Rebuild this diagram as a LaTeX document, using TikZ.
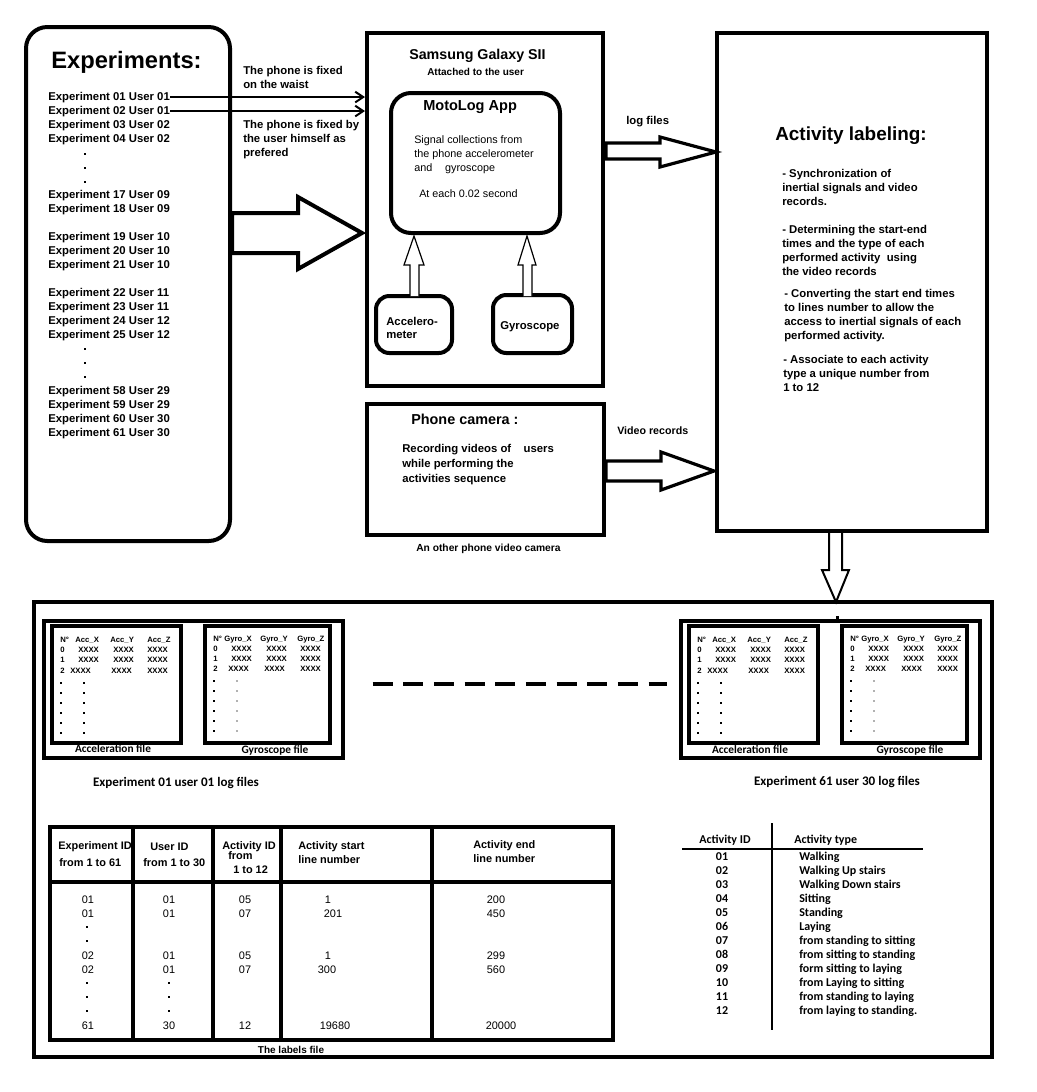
\documentclass[tikz,border=0pt]{standalone}
\usepackage{fontspec}
\setmainfont{Liberation Sans}
\newfontfamily\calib{Carlito}
\usetikzlibrary{arrows.meta,fit,calc}
\newcommand\logfiles[2]{%
\begin{scope}[shift={(#2,0)}]
  \node[bx,line width=2.4pt,fit={(44,621) (343,758)}] (grp#1) {};
  \node[bx,line width=2.4pt,fit={(52,626) (181,743)}] (acc#1) {};
  \node[bx,line width=2.4pt,fit={(205,626) (330,743)}] (gyr#1) {};
  \node[tiny] at (60,642) {N°};
  \node[tiny] at (75,642) {Acc\_X};
  \node[tiny] at (110,642) {Acc\_Y};
  \node[tiny] at (147,642) {Acc\_Z};
  \node[tiny] at (60,652) {0};  \node[tiny] at (78,652) {XXXX}; \node[tiny] at (113,652) {XXXX}; \node[tiny] at (147,652) {XXXX};
  \node[tiny] at (60,662) {1};  \node[tiny] at (78,662) {XXXX}; \node[tiny] at (113,662) {XXXX}; \node[tiny] at (147,662) {XXXX};
  \node[tiny] at (60,673) {2};  \node[tiny] at (70,673) {XXXX}; \node[tiny] at (111,673) {XXXX}; \node[tiny] at (147,673) {XXXX};
  \foreach \yy in {682,692,702,712,722,732}{
    \fill (60,\yy) rectangle (62,\yy+2);
    \fill (83,\yy) rectangle (85,\yy+2);}
  \node[tiny] at (213,641) {N°};
  \node[tiny] at (224,641) {Gyro\_X};
  \node[tiny] at (260,641) {Gyro\_Y};
  \node[tiny] at (297,641) {Gyro\_Z};
  \node[tiny] at (213,651) {0};  \node[tiny] at (231,651) {XXXX}; \node[tiny] at (266,651) {XXXX}; \node[tiny] at (300,651) {XXXX};
  \node[tiny] at (213,661) {1};  \node[tiny] at (231,661) {XXXX}; \node[tiny] at (266,661) {XXXX}; \node[tiny] at (300,661) {XXXX};
  \node[tiny] at (213,671) {2};  \node[tiny] at (228,671) {XXXX}; \node[tiny] at (264,671) {XXXX}; \node[tiny] at (300,671) {XXXX};
  \foreach \yy in {680,690,700,710,720,730}{
    \fill (213,\yy) rectangle (215,\yy+2);
    \fill[gray!60] (236,\yy) rectangle (238,\yy+2);}
\end{scope}}
\begin{document}
\begin{tikzpicture}[x=0.75pt,y=-0.75pt,
  bx/.style={draw,line width=3pt,inner sep=0pt},
  rbx/.style={bx,rounded corners=14pt},
  tb/.style={font=\bfseries\fontsize{8.5}{10}\selectfont,anchor=base west,inner sep=0pt},
  tr/.style={font=\fontsize{8.1}{10}\selectfont,anchor=base west,inner sep=0pt},
  tiny/.style={font=\bfseries\fontsize{5.8}{6}\selectfont,anchor=base west,inner sep=0pt},
  cal/.style={font=\calib\bfseries\fontsize{9}{10}\selectfont,anchor=base west,inner sep=0pt},
  thd/.style={font=\bfseries\fontsize{8.2}{10}\selectfont,anchor=base west,inner sep=0pt},
  tval/.style={font=\fontsize{8.2}{10}\selectfont,anchor=base,inner sep=0pt},
  barb/.style={line width=1.5pt,-{Straight Barb[length=6pt,width=8pt]}},
  blockarrow/.style={draw,fill=white,line join=miter}
]
\useasboundingbox (0,0) rectangle (1036,1092);

% ---------- Experiments box ----------
\node[rbx,rounded corners=16pt,fit={(26,27) (230,541)}] (exp) {};
\node[font=\bfseries\fontsize{17.8}{20}\selectfont,anchor=base west,inner sep=0pt] (exptitle) at (51,68) {Experiments:};
\foreach \n/\yy/\t in {e01/96/{Experiment 01 User 01},e02/110/{Experiment 02 User 01},e03/124/{Experiment 03 User 02},e04/138/{Experiment 04 User 02},
  e17/194/{Experiment 17 User 09},e18/208/{Experiment 18 User 09},
  e19/236/{Experiment 19 User 10},e20/250/{Experiment 20 User 10},e21/264/{Experiment 21 User 10},
  e22/292/{Experiment 22 User 11},e23/306/{Experiment 23 User 11},e24/320/{Experiment 24 User 12},e25/334/{Experiment 25 User 12},
  e58/390/{Experiment 58 User 29},e59/404/{Experiment 59 User 29},e60/418/{Experiment 60 User 30},e61/432/{Experiment 61 User 30}}
  \node[tb] (\n) at (48,\yy+4) {\t};
\foreach \yy in {153,167,181,348,362,376}
  \fill (84,\yy) rectangle (86,\yy+2);

% ---------- Samsung box ----------
\node[bx,fit={(367,33) (603,386)}] (sam) {};
\node[font=\bfseries\fontsize{10.7}{12}\selectfont,anchor=base west,inner sep=0pt] (samt) at (409,59) {Samsung Galaxy SII};
\node[font=\bfseries\fontsize{7.5}{9}\selectfont,anchor=base west,inner sep=0pt] (samst) at (427,75) {Attached to the user};
\node[rbx,rounded corners=15pt,fit={(391,93) (560,233)}] (moto) {};
\node[font=\bfseries\fontsize{10.9}{12}\selectfont,anchor=base west,inner sep=0pt] (motot) at (423,110) {MotoLog App};
\node[tr] (m1) at (414,143) {Signal collections from};
\node[tr] (m2) at (414,157) {the phone accelerometer};
\node[tr] (m3) at (414,171) {and\hspace{1.2em}gyroscope};
\node[tr] (m4) at (419,197) {At each 0.02 second};
\node[rbx,rounded corners=10pt,fit={(376,296) (452,353)}] (accb) {};
\node[tb] (acct1) at (386,325) {Accelero-};
\node[tb] (acct2) at (386,338) {meter};
\node[rbx,rounded corners=10pt,fit={(493,295) (572,353)}] (gyrb) {};
\node[tb] (gyrt) at (500,329) {Gyroscope};

% small up arrows
\draw[blockarrow,line width=0.9pt] (410,296)--(410,265)--(404,265)--(414,236)--(424,265)--(419,265)--(419,296);
\draw[blockarrow,line width=0.9pt] (523,296)--(523,265)--(518,265)--(527,236)--(536,265)--(532,265)--(532,296);

% ---------- Phone camera box ----------
\node[bx,line width=3.6pt,fit={(367,404) (604,535)}] (cam) {};
\node[font=\bfseries\fontsize{10.8}{12}\selectfont,anchor=base west,inner sep=0pt] (camt) at (411,424) {Phone camera :};
\node[tb] (c1) at (402,452) {Recording videos of\hspace{1.1em}users};
\node[tb] (c2) at (402,467) {while performing the};
\node[tb] (c3) at (402,482) {activities sequence};
\node[font=\bfseries\fontsize{7.7}{9}\selectfont,anchor=base west,inner sep=0pt] (camcap) at (416,551) {An other phone video camera};

% ---------- Activity labeling box ----------
\node[bx,line width=3.4pt,fit={(717,33) (987,531)}] (act) {};
\node[font=\bfseries\fontsize{14.2}{16}\selectfont,anchor=base west,inner sep=0pt] (actt) at (775,140) {Activity labeling:};
\foreach \n/\xx/\yy/\t in {a1/782/173/{- Synchronization of},a2/782/187/{inertial signals and video},a3/782/201/{records.},
  a4/782/229/{- Determining the start-end},a5/782/243/{times and the type of each},a6/782/257/{performed activity\ \ using},a7/782/271/{the video records},
  a8/784/293/{- Converting the start end times},a9/784/307/{to lines number to allow the},a10/784/321/{access to inertial signals of each},a11/784/335/{performed activity.},
  a12/783/359/{- Associate to each activity},a13/783/373/{type a unique number from},a14/783/387/{1 to 12}}
  \node[tb] (\n) at (\xx,\yy+4) {\t};

% ---------- connectors ----------
\draw[barb] (e01.east) -- (e01.east -| sam.west);
\draw[barb] (e02.east) -- (e02.east -| sam.west);
\node[tb] (w1) at (243,74) {The phone is fixed};
\node[tb] (w2) at (243,88) {on the waist};
\node[tb] (w3) at (243,128) {The phone is fixed by};
\node[tb] (w4) at (243,142) {the user himself as};
\node[tb] (w5) at (243,156) {prefered};

\draw[blockarrow,line width=3pt] (232,213)--(298,213)--(298,197)--(362,233)--(298,269)--(298,253)--(232,253)--cycle;
\draw[blockarrow,line width=2.4pt] (606,143)--(660,143)--(660,137)--(716,152)--(660,167)--(660,159)--(606,159)--cycle;
\node[tb] (logl) at (626,124) {log files};
\draw[blockarrow,line width=2.4pt] (606,461)--(661,461)--(661,452)--(714,471)--(661,490)--(661,481)--(606,481)--cycle;
\node[font=\bfseries\fontsize{8}{10}\selectfont,anchor=base west,inner sep=0pt] (vidl) at (617,434) {Video records};
\draw[blockarrow,line width=1.5pt] (829,533)--(829,570)--(822,570)--(836,602)--(849,570)--(842,570)--(842,533);

% ---------- bottom box ----------
\node[bx,line width=2.6pt,fit={(34,602) (992,1057)}] (bot) {};
\fill (836,616) rectangle (839,619);
\logfiles{L}{0}
\logfiles{R}{637}
\node[cal,font=\calib\bfseries\fontsize{8.5}{10}\selectfont,anchor=base] (accfL) at (113,752) {Acceleration file};
\node[cal,font=\calib\bfseries\fontsize{8.5}{10}\selectfont,anchor=base] (gyrfL) at (275,753) {Gyroscope file};
\node[cal,font=\calib\bfseries\fontsize{8.5}{10}\selectfont,anchor=base] (accfR) at (750,753) {Acceleration file};
\node[cal,font=\calib\bfseries\fontsize{8.5}{10}\selectfont,anchor=base] (gyrfR) at (910,753) {Gyroscope file};
\node[font=\calib\bfseries\fontsize{9.8}{11}\selectfont,anchor=base,inner sep=0pt] (logL) at (176,786) {Experiment 01 user 01 log files};
\node[font=\calib\bfseries\fontsize{9.8}{11}\selectfont,anchor=base,inner sep=0pt] (logR) at (837,785) {Experiment 61 user 30 log files};
\draw[line width=3pt,dash pattern=on 15pt off 8pt] (grpL.east |- 0,684) ++(28,0) coordinate (dashA) -- (667,684) coordinate (dashB);

% ---------- labels table ----------
\node[bx,fit={(50,827) (613,1040)}] (tab) {};
\draw[line width=3pt] (tab.west |- 0,882) -- (tab.east |- 0,882);
\foreach \xx in {133,213,281,432}
  \draw[line width=3pt] (\xx,827) -- (\xx,1040);
\node[thd] (h1a) at (58,849) {Experiment ID};
\node[thd] (h1b) at (59,866) {from 1 to 61};
\node[thd] (h2a) at (150,850) {User ID};
\node[thd] (h2b) at (143,866) {from 1 to 30};
\node[thd] (h3a) at (222,849) {Activity ID};
\node[thd] (h3b) at (228,859) {from};
\node[thd] (h3c) at (233,873) {1 to 12};
\node[thd] (h4a) at (298,849) {Activity start};
\node[thd] (h4b) at (298,863) {line number};
\node[thd] (h5a) at (473,848) {Activity end};
\node[thd] (h5b) at (473,862) {line number};
\foreach \yy/\a/\b/\c/\d/\dx/\e/\ex in {899/01/01/05/1/328/200/496, 913/01/01/07/201/333/450/496, 955/02/01/05/1/328/299/496, 969/02/01/07/300/327/560/496, 1025/61/30/12/19680/335/20000/501}{
  \node[tval] at (88,\yy+4) {\a};
  \node[tval] at (169,\yy+4) {\b};
  \node[tval] at (245,\yy+4) {\c};
  \node[tval] at (\dx,\yy+4) {\d};
  \node[tval] at (\ex,\yy+4) {\e};}
\foreach \yy in {926,940,982,996,1010}
  \fill (86,\yy) rectangle (88,\yy+2);
\foreach \yy in {982,996,1010}
  \fill (168,\yy) rectangle (170,\yy+2);
\node[font=\bfseries\fontsize{7.5}{9}\selectfont,anchor=base,inner sep=0pt] (labf) at (291,1053) {The labels file};

% ---------- activity list ----------
\draw[line width=1pt] (772,823) coordinate (vt) -- (772,1030) coordinate (vb);
\draw[line width=1pt] (682,849) coordinate (hl) -- (923,849) coordinate (hr);
\node[cal,anchor=base] (aid) at (725,843) {Activity ID};
\node[cal] (atype) at (794,843) {Activity type};
\foreach \i/\t [count=\k from 0] in {01/Walking,02/Walking Up stairs,03/Walking Down stairs,04/Sitting,05/Standing,06/Laying,07/from standing to sitting,08/from sitting to standing,09/form sitting to laying,10/from Laying to sitting,11/from standing to laying,12/from laying to standing.}{
  \node[cal,anchor=base] at (722,860+14*\k) {\i};
  \node[cal] at (799,860+14*\k) {\t};}
\end{tikzpicture}
\end{document}
